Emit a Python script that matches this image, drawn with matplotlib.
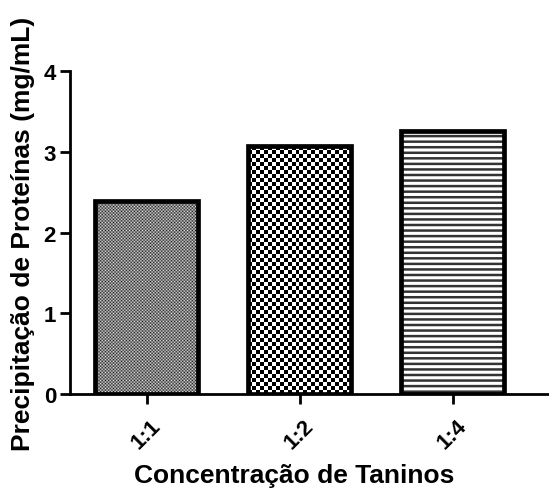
import numpy as np
import matplotlib
matplotlib.use("Agg")
import matplotlib.pyplot as plt

plt.rcParams['font.family'] = ['Liberation Sans', 'DejaVu Sans']
plt.rcParams['font.weight'] = 'bold'
plt.rcParams['hatch.linewidth'] = 1.8
plt.rcParams['hatch.color'] = '#333333'

categories = ['1:1', '1:2', '1:4']
values = [2.39, 3.07, 3.26]
patterns = ['fine', 'checker', 'lines']

DPI = 100


def fill_checker(ax, bar, cell_px, interp='nearest'):
    # paint a checkerboard inside the bar, clipped to its outline
    x0, y0 = bar.get_x(), bar.get_y()
    x1, y1 = x0 + bar.get_width(), y0 + bar.get_height()
    (px0, py0), (px1, py1) = ax.transData.transform([(x0, y0), (x1, y1)])
    nx = max(1, int(round(abs(px1 - px0) / cell_px)))
    ny = max(1, int(round(abs(py1 - py0) / cell_px)))
    board = (np.add.outer(np.arange(ny), np.arange(nx)) % 2).astype(float)
    im = ax.imshow(board, cmap='gray', vmin=0, vmax=1, extent=(x0, x1, y0, y1),
                   origin='lower', interpolation=interp, aspect='auto', zorder=2)
    im.set_clip_path(bar)


fig = plt.figure(figsize=(549 / DPI, 489 / DPI), dpi=DPI)
ax = fig.add_axes([70 / 549, 94 / 489, 1 - 70 / 549, (395 - 72) / 489])

x = np.arange(len(categories))
bars = ax.bar(x, values, width=0.67, facecolor='white', edgecolor='black',
              linewidth=3.4, zorder=3)
ax.set_xlim(-0.5, 2.63)
ax.set_ylim(0, 4)

for bar, pat in zip(bars, patterns):
    if pat == 'fine':
        fill_checker(ax, bar, 1.6, interp='bilinear')
    elif pat == 'checker':
        fill_checker(ax, bar, 4.0)
    else:
        ax.bar(bar.get_x() + bar.get_width() / 2, bar.get_height(), width=bar.get_width(),
               facecolor='none', edgecolor='#333333', hatch='---', linewidth=0, zorder=2)
    bar.set_facecolor('none')

ax.spines['top'].set_visible(False)
ax.spines['right'].set_visible(False)
ax.spines['left'].set_linewidth(2.0)
ax.spines['bottom'].set_linewidth(2.0)
ax.tick_params(axis='both', width=2.0, length=7, labelsize=16, pad=3)
ax.tick_params(axis='x', pad=8)
ax.set_yticks([0, 1, 2, 3, 4])
ax.set_xticks(x)
ax.set_xticklabels(categories, rotation=45, ha='center')

ax.set_xlabel('Concentração de Taninos', fontsize=19, fontweight='bold', labelpad=9)
ax.xaxis.set_label_coords(0.468, -0.215)
ax.set_ylabel('Precipitação de Proteínas (mg/mL)', fontsize=19, fontweight='bold', labelpad=6)

fig.savefig('out.png', dpi=DPI)
